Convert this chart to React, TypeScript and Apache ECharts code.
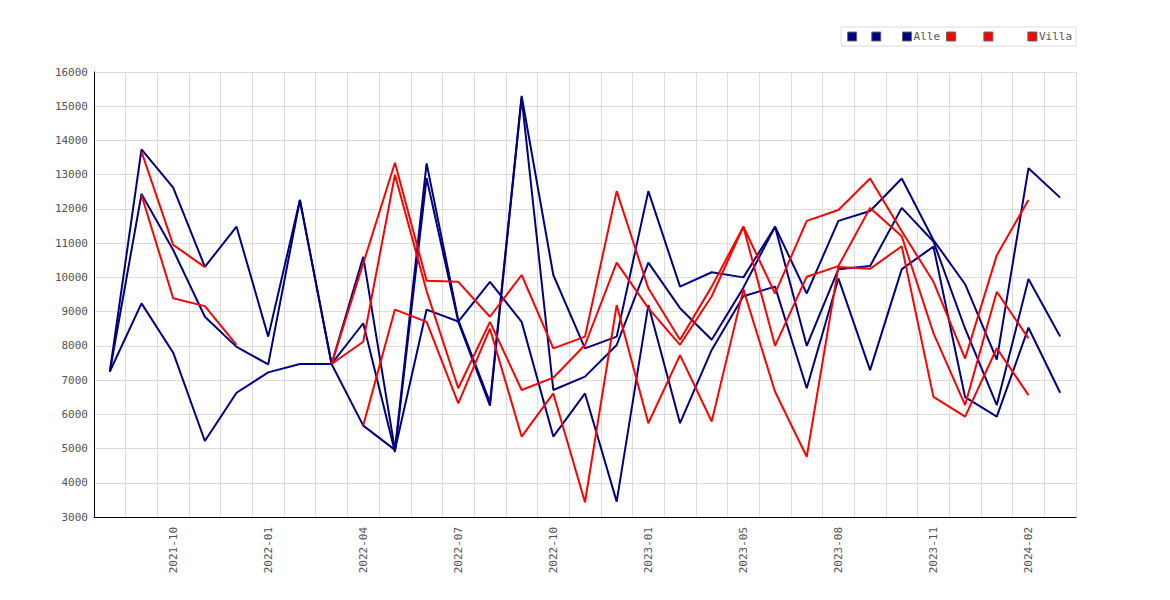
import React, { useEffect, useRef } from "react";
import * as echarts from "echarts";

// one slot per month, only every third carries a visible label
const xLabels = [
  "", "", "2021-10", "", "", "2022-01", "", "", "2022-04", "", "",
  "2022-07", "", "", "2022-10", "", "", "2023-01", "", "", "2023-05", "",
  "", "2023-08", "", "", "2023-11", "", "", "2024-02", "",
];

const navyA = [7250, 13740, 12620, 10310, 11480, 8270, 12260, 7470, 10600, 4960, 13330, 8750, 6350, 15300, 10070, 7925, 8270, 12520, 9730, 10150, 10000, 11480, 9530, 11650, 11940, 12890, 11090, 9800, 7600, 13190, 12330];
const navyB = [7250, 12435, 10800, 8850, 7970, 7460, 12260, 7470, 8660, 4900, 12900, 8700, 6250, 15250, 6710, 7100, 8025, 10430, 9100, 8180, 9700, 11480, 8000, 10240, 10330, 12030, 11050, 8500, 6270, 9950, 8270];
const navyC = [7250, 9240, 7800, 5220, 6630, 7225, 7470, 7470, 5670, 4960, 9060, 8710, 9870, 8700, 5350, 6610, 3450, 9190, 5740, 7880, 9450, 9730, 6760, 9970, 7290, 10240, 10900, 6500, 5930, 8530, 6630];

const redA = [null, 13670, 10950, 10300, null, null, null, 7470, 10410, 13350, 9900, 9870, 8850, 10070, 7925, 8270, 12520, 9680, 8180, 9730, 11480, 9530, 11650, 11970, 12890, 11350, 9870, 7630, 10650, 12260, null];
const redB = [null, 12400, 9390, 9160, 8025, null, null, 7470, 8120, 13000, 9600, 6760, 8700, 6710, 7070, 8025, 10430, 9100, 8030, 9450, 11480, 8000, 10020, 10330, 12030, 11200, 8370, 6270, 9580, 8220, null];
const redC = [null, null, null, null, null, null, null, null, 5670, 9060, 8700, 6320, 8500, 5350, 6610, 3430, 9190, 5740, 7730, 5790, 9650, 6660, 4760, 10300, 10250, 10910, 6510, 5930, 7930, 6560, null];

const seriesNames = [" ", "  ", "Alle", "   ", "    ", "Villa"];
const seriesData = [navyA, navyB, navyC, redA, redB, redC];
const seriesColors = ["#000080", "#000080", "#000080", "#ff0000", "#ff0000", "#ff0000"];

const mono = "DejaVu Sans Mono";

const App: React.FC = () => {
  const chartRef = useRef<HTMLDivElement>(null);

  useEffect(() => {
    if (!chartRef.current) return;
    const chart = echarts.init(chartRef.current, null, { renderer: "svg" });

    const option: echarts.EChartsOption = {
      animation: false,
      backgroundColor: "#fff",
      legend: {
        data: seriesNames,
        right: 86,
        top: 19,
        padding: [4, 4, 4, 6],
        itemGap: 6,
        itemWidth: 9,
        itemHeight: 9,
        borderColor: "#dddddd",
        borderWidth: 1,
        icon: "rect",
        itemStyle: { borderColor: "#666", borderWidth: 1 },
        textStyle: { fontFamily: mono, fontSize: 11, color: "#555", padding: [0, 0, 0, -3] },
      },
      grid: { left: 86, top: 64, width: 982, height: 445 },
      xAxis: {
        type: "category",
        data: xLabels,
        boundaryGap: true,
        axisLine: { lineStyle: { color: "#000" } },
        axisTick: { show: false },
        axisLabel: {
          interval: 0,
          rotate: 90,
          fontFamily: mono,
          fontSize: 11,
          color: "#555",
          margin: 10,
        },
        splitLine: { show: true, interval: 0, lineStyle: { color: "#dcdcdc" } },
      },
      yAxis: {
        type: "value",
        min: 3000,
        max: 16000,
        interval: 1000,
        axisLine: { show: true, lineStyle: { color: "#000" } },
        axisTick: { show: false },
        axisLabel: {
          fontFamily: mono,
          fontSize: 11,
          color: "#555",
          margin: 6,
          formatter: (v: number) => String(v),
        },
        splitLine: { lineStyle: { color: "#dcdcdc" } },
      },
      series: seriesNames.map((name, k) => ({
        name,
        type: "line" as const,
        data: seriesData[k],
        symbol: "none",
        connectNulls: false,
        color: seriesColors[k],
        lineStyle: { color: seriesColors[k], width: 2 },
      })),
    };

    chart.setOption(option);
    return () => chart.dispose();
  }, []);

  return <div ref={chartRef} style={{ width: 1154, height: 584 }} />;
};

export default App;
